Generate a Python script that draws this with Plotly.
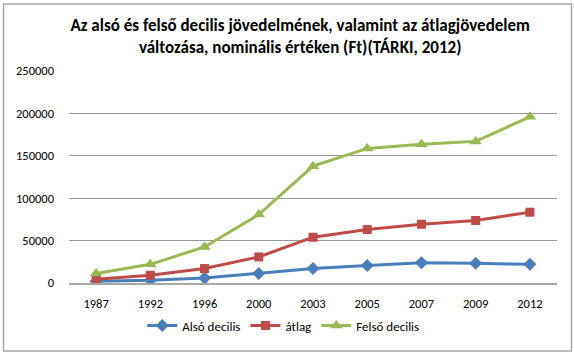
import plotly.graph_objects as go

years = ["1987", "1992", "1996", "2000", "2003", "2005", "2007", "2009", "2012"]
also_decilis = [2000, 3200, 5900, 11100, 17000, 20500, 24000, 23300, 22000]
atlag = [4400, 9100, 17000, 30700, 54000, 63000, 69300, 73700, 83500]
felso_decilis = [11100, 22000, 42500, 80700, 137800, 158700, 163700, 167000, 196000]
y_ticks = [0, 50000, 100000, 150000, 200000, 250000]

FONT = "Carlito, Lato, 'Open Sans', sans-serif"

fig = go.Figure()
fig.add_trace(go.Scatter(x=years, y=also_decilis, name="Alsó decilis", mode="lines+markers",
                         line=dict(color="#4A7EBB", width=3),
                         marker=dict(symbol="diamond", size=10, color="#4A7EBB")))
fig.add_trace(go.Scatter(x=years, y=atlag, name="átlag", mode="lines+markers",
                         line=dict(color="#BE4B48", width=3),
                         marker=dict(symbol="square", size=9, color="#BE4B48")))
fig.add_trace(go.Scatter(x=years, y=felso_decilis, name="Felső decilis", mode="lines+markers",
                         line=dict(color="#98B954", width=3),
                         marker=dict(symbol="triangle-up", size=11, color="#98B954")))

fig.update_layout(
    width=574, height=357,
    margin=dict(l=69, r=17, t=71, b=74, autoexpand=False),
    paper_bgcolor="white", plot_bgcolor="white",
    font=dict(family=FONT, size=12, color="black"),
    title=dict(text="<b>Az alsó és felső decilis jövedelmének, valamint az átlagjövedelem<br>változása, nominális értéken (Ft)(TÁRKI, 2012)</b>",
               x=0.523, xanchor="center", xref="container",
               y=1 - 31 / 357, yanchor="top", yref="container",
               font=dict(family=FONT, size=17, color="black")),
    xaxis=dict(type="category", range=[-0.5, 8.5], showgrid=False,
               showline=True, linecolor="#A6A6A6", linewidth=2,
               ticks="", tickfont=dict(size=12.5), ticklabelstandoff=8,
               fixedrange=True, automargin=False),
    yaxis=dict(range=[0, 250000], tickvals=y_ticks, ticktext=[str(v) for v in y_ticks],
               showgrid=True, gridcolor="#969696", gridwidth=1, zeroline=False,
               showline=False, ticks="", ticklabelstandoff=14, tickfont=dict(size=12.5),
               automargin=False, fixedrange=True),
    legend=dict(orientation="h", x=0.439, xanchor="center", y=-0.13, yanchor="top",
                font=dict(size=13), itemwidth=30, tracegroupgap=0),
    showlegend=True,
)

fig.add_shape(type="rect", xref="paper", yref="paper",
              x0=(3.5 - 69) / 488, x1=(571.5 - 69) / 488,
              y0=(283 - 351) / 212, y1=(283 - 4) / 212,
              line=dict(color="#A6A6A6", width=1.5), layer="above")

fig.write_html("out.html", config={"displayModeBar": False},
               post_script="document.body.style.margin='0';document.body.style.overflow='hidden';")
